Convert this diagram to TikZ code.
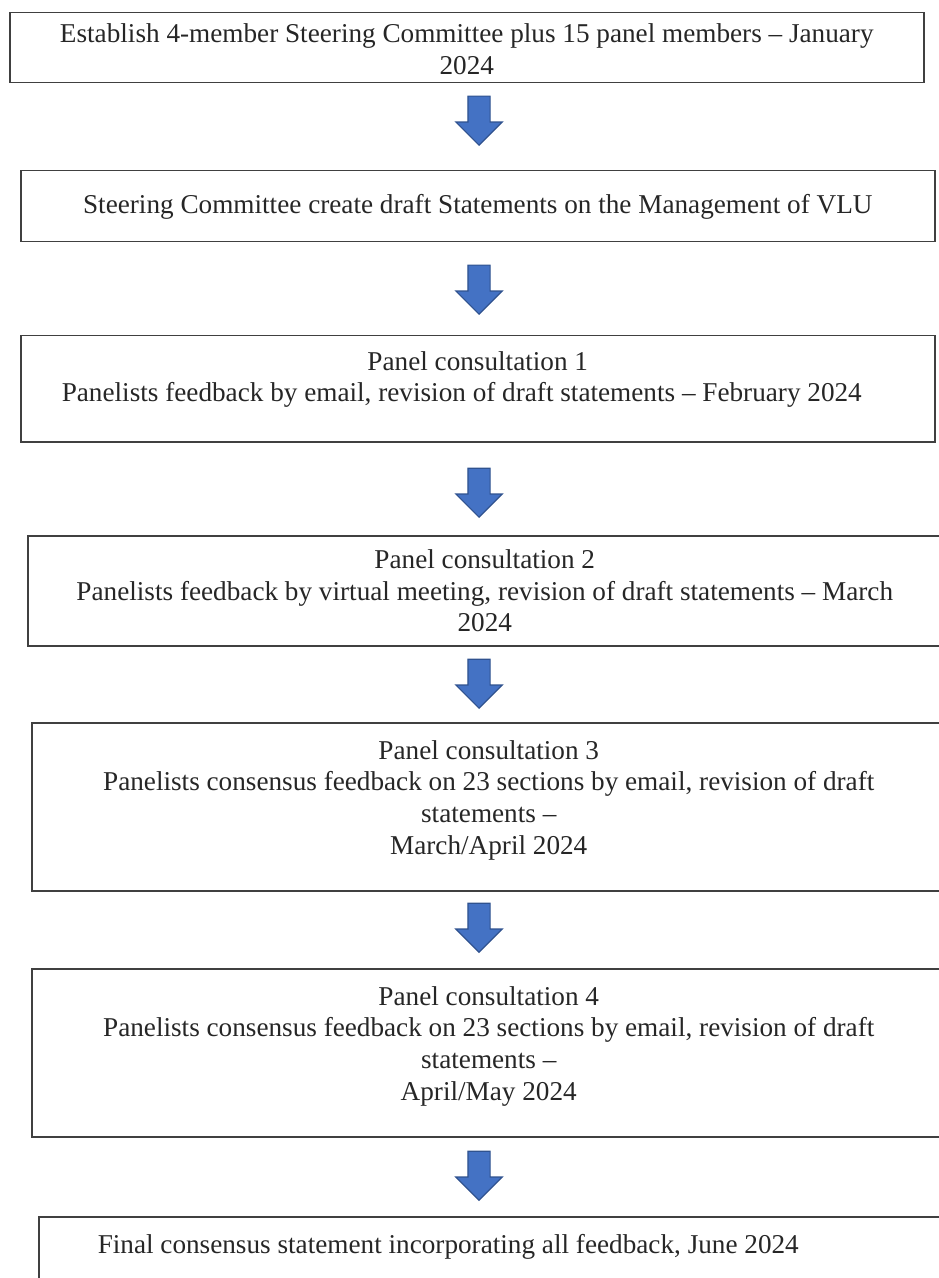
\documentclass[tikz,border=0pt]{standalone}
\usepackage{fontspec}
\setmainfont{Liberation Serif}
\usetikzlibrary{shapes.arrows}
\definecolor{bordo}{HTML}{404040}
\definecolor{testo}{HTML}{262626}
\definecolor{frecciablu}{HTML}{4472C4}
\definecolor{frecciabordo}{HTML}{2F528F}
\tikzstyle{stepbox} = [rectangle, draw=bordo, line width=0.75pt, inner sep=0pt, anchor=north west, text=testo, font=\fontsize{13.6pt}{15.8pt}\selectfont]
\tikzstyle{freccia} = [single arrow, shape border rotate=270, draw=frecciabordo, fill=frecciablu, line width=0.6pt, inner sep=5.25pt, minimum height=24.5pt, single arrow head extend=6pt, single arrow tip angle=90, anchor=tip]
\newcommand{\testobox}[3]{\parbox[t][#1][t]{457pt}{\centering\rule{0pt}{#2}#3}}

\begin{document}
\begin{tikzpicture}[x=0.5pt, y=-0.5pt]
\useasboundingbox (0,0) rectangle (938,1278);

% Riquadri
\node (b1) [stepbox] at (9,12) {\testobox{35pt}{15pt}{Establish 4-member Steering Committee plus 15 panel members – January\\2024}};
\node (b2) [stepbox] at (20,170) {\testobox{35.5pt}{21.5pt}{Steering Committee create draft Statements on the Management of VLU}};
\node (b3) [stepbox] at (20,335) {\testobox{53pt}{17.25pt}{Panel consultation 1\\Panelists feedback by email, revision of draft statements – February 2024\hspace*{16pt}}};
\node (b4) [stepbox] at (27,535) {\testobox{55pt}{16.5pt}{Panel consultation 2\\Panelists feedback by virtual meeting, revision of draft statements – March\\2024}};
\node (b5) [stepbox] at (31,722) {\testobox{84pt}{18.25pt}{Panel consultation 3\\Panelists consensus feedback on 23 sections by email, revision of draft\\statements –\\March/April 2024}};
\node (b6) [stepbox] at (31,968) {\testobox{84pt}{18.25pt}{Panel consultation 4\\Panelists consensus feedback on 23 sections by email, revision of draft\\statements –\\April/May 2024}};
\node (b7) [stepbox] at (38,1216) {\testobox{42pt}{18.5pt}{Final consensus statement incorporating all feedback, June 2024\hspace*{47.5pt}}};

% Frecce
\node (a1) [freccia] at (479,146) {};
\node (a2) [freccia] at (479,315) {};
\node (a3) [freccia] at (479,518) {};
\node (a4) [freccia] at (479,709) {};
\node (a5) [freccia] at (479,953) {};
\node (a6) [freccia] at (479,1201) {};

\end{tikzpicture}
\end{document}
